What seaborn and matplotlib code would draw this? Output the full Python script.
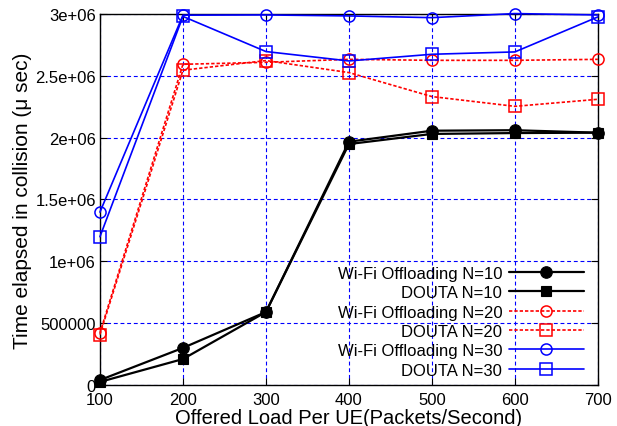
import matplotlib
matplotlib.use("Agg")
import matplotlib.pyplot as plt
import seaborn as sns
import pandas as pd

# ---- data ----
loads = [100, 200, 300, 400, 500, 600, 700]
wifi_n10 = [40000, 300000, 590000, 1967000, 2056000, 2060000, 2040000]
douta_n10 = [25000, 210000, 590000, 1948000, 2030000, 2037000, 2040000]
wifi_n20 = [422000, 2593000, 2609000, 2633000, 2625000, 2625000, 2633000]
douta_n20 = [408000, 2545000, 2623000, 2526000, 2332000, 2253000, 2310000]
wifi_n30 = [1398000, 2990000, 2992000, 2984000, 2970000, 3003000, 2992000]
douta_n30 = [1199000, 2980000, 2696000, 2620000, 2674000, 2693000, 2976000]

series_labels = ["Wi-Fi Offloading N=10", "DOUTA N=10",
                 "Wi-Fi Offloading N=20", "DOUTA N=20",
                 "Wi-Fi Offloading N=30", "DOUTA N=30"]
x_ticks = [100, 200, 300, 400, 500, 600, 700]
y_ticks = [0, 500000, 1000000, 1500000, 2000000, 2500000, 3000000]
y_ticklabels = ["0", "500000", "1e+06", "1.5e+06", "2e+06", "2.5e+06", "3e+06"]
x_label = "Offered Load Per UE(Packets/Second)"
y_label = "Time elapsed in collision (\u03bc sec)"

sns.set_theme(style="white")
plt.rcParams['font.family'] = ['Liberation Sans', 'DejaVu Sans']

fig = plt.figure(figsize=(6.17, 4.27), dpi=100)
ax = fig.add_axes([0.162, 0.096, 0.969 - 0.162, 0.965 - 0.096])

values = [wifi_n10, douta_n10, wifi_n20, douta_n20, wifi_n30, douta_n30]
styles = [
    dict(color="black", marker="o", markersize=8.3, markerfacecolor="black", markeredgecolor="black",
         markeredgewidth=0.8, lw=1.6, ls="-"),
    dict(color="black", marker="s", markersize=7.8, markerfacecolor="black", markeredgecolor="black",
         markeredgewidth=0.8, lw=1.6, ls="-"),
    dict(color="red", marker="o", markersize=8, markerfacecolor="none", markeredgecolor="red",
         markeredgewidth=1.1, lw=1.2, dashes=(2, 1.2)),
    dict(color="red", marker="s", markersize=8, markerfacecolor="none", markeredgecolor="red",
         markeredgewidth=1.1, lw=1.2, dashes=(2, 1.2)),
    dict(color="blue", marker="o", markersize=8, markerfacecolor="none", markeredgecolor="blue",
         markeredgewidth=1.1, lw=1.2, ls="-"),
    dict(color="blue", marker="s", markersize=8, markerfacecolor="none", markeredgecolor="blue",
         markeredgewidth=1.1, lw=1.2, ls="-"),
]

for vals, lab, st in zip(values, series_labels, styles):
    df = pd.DataFrame({"x": loads, "y": vals})
    sns.lineplot(data=df, x="x", y="y", ax=ax, label=lab, clip_on=False, zorder=3, **st)

ax.set_xlim(100, 700)
ax.set_ylim(0, 3000000)
ax.set_xticks(x_ticks)
ax.set_xticklabels([str(v) for v in x_ticks])
ax.set_yticks(y_ticks)
ax.set_yticklabels(y_ticklabels)
ax.tick_params(axis="both", direction="in", length=5, width=0.8, labelsize=12,
               top=True, right=True, bottom=True, left=True, colors="black")
ax.tick_params(axis="x", pad=5.2)
ax.tick_params(axis="y", pad=3)
for lbl in ax.get_xticklabels() + ax.get_yticklabels():
    lbl.set_color("black")
ax.grid(True, color="blue", lw=0.8, ls=(0, (3.5, 2.5)))
for s in ax.spines.values():
    s.set_color("black")
    s.set_linewidth(1.0)
ax.set_xlabel(x_label, fontsize=14.5, labelpad=0.3, color="black")
ax.set_ylabel(y_label, fontsize=15, labelpad=2, color="black")

leg = ax.legend(loc="lower right", bbox_to_anchor=(0.972, 0.02), frameon=False,
                markerfirst=False, fontsize=12, handlelength=4.5, handletextpad=0.4,
                labelspacing=0.26, borderpad=0, borderaxespad=0)
for t in leg.get_texts():
    t.set_color("black")

fig.savefig("out.png", dpi=100)
